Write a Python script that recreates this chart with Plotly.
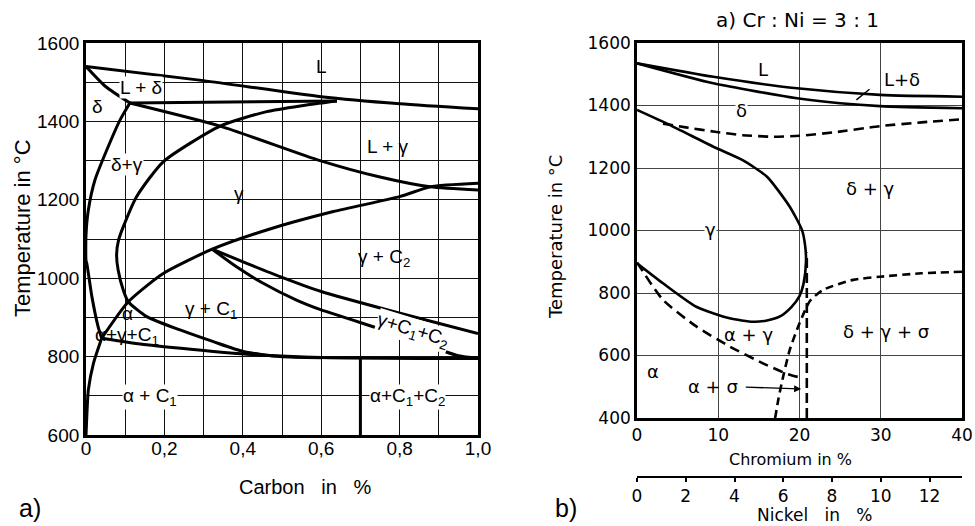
import plotly.graph_objects as go

# ---------------- Panel a): carbon % vs temperature °C ----------------
liquidus_c = [0, 0.3, 0.6, 0.8, 1.0]
liquidus_T = [1540, 1504, 1463, 1445, 1432]
delta_solidus_c = [0, 0.05, 0.112]
delta_solidus_T = [1540, 1489, 1447]
peritectic_c = [0.112, 0.64]
peritectic_T = [1447, 1452]
gamma_solidus_c = [0.112, 0.342, 0.597, 0.75, 0.878, 1.0]
gamma_solidus_T = [1447, 1388, 1300, 1258, 1233, 1225]
gamma_loop_c = [0.64, 0.55, 0.461, 0.342, 0.197, 0.129, 0.095, 0.083, 0.078,
                0.082, 0.095, 0.108, 0.155, 0.24, 0.325, 0.401, 0.495, 0.6]
gamma_loop_T = [1452, 1440, 1425, 1388, 1297, 1208, 1131, 1097, 1060,
                1021, 970, 940, 902, 868, 838, 813, 800, 797]
delta_gamma_c = [0.112, 0.087, 0.053, 0.023, 0.006, 0.0, 0.0, 0.002, 0.015, 0.031, 0.04]
delta_gamma_T = [1447, 1404, 1327, 1251, 1174, 1110, 1045, 1038, 953, 876, 847]
alpha_solvus_c = [0.04, 0.019, 0.006, 0.002, 0.0]
alpha_solvus_T = [847, 783, 715, 647, 600]
carbide_rise_c = [0.04, 0.108, 0.197, 0.322, 0.461, 0.631, 0.80, 0.878, 1.0]
carbide_rise_T = [847, 940, 1012, 1074, 1123, 1170, 1208, 1233, 1242]
c2_upper_c = [0.322, 0.41, 0.495, 0.6, 0.784, 1.0]
c2_upper_T = [1074, 1038, 1004, 966, 915, 859]
c2_lower_c = [0.322, 0.384, 0.452, 0.537, 0.6, 0.784, 0.95, 1.0]
c2_lower_T = [1074, 1029, 987, 944, 919, 860, 802, 796]
eutectoid_c = [0.04, 0.155, 0.325, 0.41, 0.6, 1.0]
eutectoid_T = [847, 830, 813, 806, 798, 795]
c1c2_split_c = [0.7, 0.7]
c1c2_split_T = [600, 796]

carbon_ticks = [0, 0.2, 0.4, 0.6, 0.8, 1.0]
carbon_ticktext = ["0", "0,2", "0,4", "0,6", "0,8", "1,0"]
temp_ticks_a = [600, 800, 1000, 1200, 1400, 1600]

# (text, carbon, temperature, white background, angle)
labels_a = [
    ("L", 0.60, 1540, False, 0),
    ("L + δ", 0.14, 1486, True, 0),
    ("δ", 0.03, 1437, False, 0),
    ("δ+γ", 0.104, 1290, True, 0),
    ("γ", 0.39, 1216, False, 0),
    ("L + γ", 0.77, 1335, False, 0),
    ("γ + C<sub>2</sub>", 0.76, 1051, False, 0),
    ("γ + C<sub>1</sub>", 0.32, 919, False, 0),
    ("α", 0.105, 911, False, 0),
    ("α+γ+C<sub>1</sub>", 0.105, 853, False, 0),
    ("α + C<sub>1</sub>", 0.163, 696, True, 0),
    ("α+C<sub>1</sub>+C<sub>2</sub>", 0.82, 696, True, 0),
    ("γ+C<sub>1</sub>+C<sub>2</sub>", 0.835, 866, True, 17),
]

# ---------------- Panel b): chromium % vs temperature °C ----------------
r_liquidus_cr = [0, 9.4, 19.7, 29.9, 40]
r_liquidus_T = [1535, 1492, 1455, 1434, 1428]
r_solidus_cr = [0, 9.4, 19.7, 25, 29.9, 40]
r_solidus_T = [1535, 1471, 1423, 1407, 1398, 1391]
r_gamma_loop_cr = [0, 4, 9.4, 13, 16, 18.8, 20.3, 20.7, 20.8, 20.5, 20.0, 19.0,
                   17.6, 16, 14.3, 11.4, 7.3, 3.2, 0]
r_gamma_loop_T = [1386, 1338, 1268, 1225, 1172, 1076, 1002, 950, 900, 830, 790, 755,
                  725, 712, 708, 719, 756, 831, 895]
r_delta_dash_cr = [3.2, 6, 9.6, 13, 16.8, 20, 24.2, 29.9, 35, 40]
r_delta_dash_T = [1342, 1330, 1316, 1305, 1300, 1303, 1314, 1334, 1346, 1356]
r_sigma_dash_cr = [0, 3.2, 7.3, 11.4, 15.5, 18.4, 20.3]
r_sigma_dash_T = [898, 778, 693, 629, 575, 542, 528]
r_steep_dash_cr = [17.0, 17.4, 17.8, 18.8, 20, 21.3, 22.9, 26.6, 29.9, 35, 40]
r_steep_dash_T = [400, 460, 511, 618, 703, 775, 810, 842, 852, 863, 868]
r_vertical_dash_cr = [20.9, 20.9]
r_vertical_dash_T = [400, 930]

chromium_ticks = [0, 10, 20, 30, 40]
temp_ticks_b = [400, 600, 800, 1000, 1200, 1400, 1600]
nickel_ticks = [0, 2, 4, 6, 8, 10, 12]
nickel_range = [0, 40 / 3]

labels_b = [
    ("L", 15.5, 1514, False),
    ("L+δ", 32.6, 1482, False),
    ("δ", 12.9, 1384, True),
    ("δ + γ", 28.7, 1135, False),
    ("γ", 9.0, 1002, True),
    ("α + γ", 13.7, 666, False),
    ("δ + γ + σ", 30.7, 676, False),
    ("α", 2.0, 548, False),
    ("α + σ", 9.4, 500, False),
]
# leader lines: (from Cr, from T, to Cr, to T, arrowhead)
leaders_b = [
    (28.8, 1456, 27.0, 1418, 0),
    (13.2, 499, 20.2, 493, 2),
]

fig = go.Figure()

def curve(x, y, xa="x", ya="y", dash="solid", width=3, shape="spline", smooth=0.6):
    fig.add_trace(go.Scatter(
        x=x, y=y, xaxis=xa, yaxis=ya, mode="lines",
        line=dict(color="black", width=width, dash=dash, shape=shape,
                  smoothing=smooth if shape == "spline" else None),
        showlegend=False, hoverinfo="skip"))

curve(liquidus_c, liquidus_T)
curve(delta_solidus_c, delta_solidus_T)
curve(peritectic_c, peritectic_T, shape="linear")
curve(gamma_solidus_c, gamma_solidus_T)
curve(gamma_loop_c, gamma_loop_T)
curve(delta_gamma_c, delta_gamma_T)
curve(alpha_solvus_c, alpha_solvus_T)
curve(carbide_rise_c, carbide_rise_T)
curve(c2_upper_c, c2_upper_T)
curve(c2_lower_c, c2_lower_T)
curve(eutectoid_c, eutectoid_T)
curve(c1c2_split_c, c1c2_split_T, shape="linear")

RW = 2.6
curve(r_liquidus_cr, r_liquidus_T, "x2", "y2", width=RW)
curve(r_solidus_cr, r_solidus_T, "x2", "y2", width=RW)
curve(r_gamma_loop_cr, r_gamma_loop_T, "x2", "y2", width=RW)
curve(r_delta_dash_cr, r_delta_dash_T, "x2", "y2", dash="10px,6px", width=RW)
curve(r_sigma_dash_cr, r_sigma_dash_T, "x2", "y2", dash="10px,6px", width=RW)
curve(r_steep_dash_cr, r_steep_dash_T, "x2", "y2", dash="8px,5px", width=RW)
curve(r_vertical_dash_cr, r_vertical_dash_T, "x2", "y2", dash="10px,5px", width=RW, shape="linear")

# invisible trace so that the nickel axis is drawn
fig.add_trace(go.Scatter(x=nickel_ticks, y=[None] * len(nickel_ticks), xaxis="x3", yaxis="y2",
                         mode="lines", showlegend=False, hoverinfo="skip"))

W, H = 975, 526
def px_x(p): return p / W
def px_y(p): return 1 - p / H

SANS_A = "Liberation Sans, Arial, sans-serif"
SANS_B = "DejaVu Sans, sans-serif"
FA = dict(family=SANS_A, size=19, color="black")
FB = dict(family=SANS_B, size=17, color="black")

fig.update_layout(
    width=W, height=H, margin=dict(l=0, r=0, t=0, b=0, autoexpand=False),
    paper_bgcolor="white", plot_bgcolor="white",
    xaxis=dict(domain=[px_x(86), px_x(478)], range=[0, 1.0], anchor="y", automargin=False,
               tickvals=carbon_ticks, ticktext=carbon_ticktext, tickfont=FA,
               ticklabelstandoff=-6,
               showgrid=True, gridcolor="#111", gridwidth=1.4,
               minor=dict(dtick=0.1, tick0=0, showgrid=True, gridcolor="#111", gridwidth=1.4),
               showline=True, mirror=True, linecolor="black", linewidth=2.8,
               zeroline=False, ticks=""),
    yaxis=dict(domain=[px_y(435), px_y(43)], range=[600, 1600], anchor="x", automargin=False,
               tickvals=temp_ticks_a, tickfont=FA,
               showgrid=True, gridcolor="#111", gridwidth=1.4,
               minor=dict(dtick=100, tick0=600, showgrid=True, gridcolor="#111", gridwidth=1.4),
               showline=True, mirror=True, linecolor="black", linewidth=2.8,
               zeroline=False, ticks=""),
    xaxis2=dict(domain=[px_x(637), px_x(962)], range=[0, 40], anchor="y2", automargin=False,
                tickvals=chromium_ticks, tickfont=FB,
                showgrid=True, gridcolor="#444", gridwidth=1.3,
                showline=True, mirror=True, linecolor="black", linewidth=2.6,
                zeroline=False, ticks=""),
    yaxis2=dict(domain=[px_y(418), px_y(43)], range=[400, 1600], anchor="x2", automargin=False,
                tickvals=temp_ticks_b, tickfont=FB,
                showgrid=True, gridcolor="#444", gridwidth=1.3,
                showline=True, mirror=True, linecolor="black", linewidth=2.6,
                zeroline=False, ticks=""),
    xaxis3=dict(overlaying="x2", anchor="free", position=px_y(477), side="bottom",
                automargin=False, range=nickel_range, tickvals=nickel_ticks, tickfont=FB,
                showgrid=False, showline=True, linecolor="black", linewidth=1.6,
                ticks="outside", ticklen=4, tickwidth=1.6, tickcolor="black", zeroline=False),
)

ann = []
for text, x, y, bg, ang in labels_a:
    ann.append(dict(text=text, x=x, y=y, xref="x", yref="y", showarrow=False,
                    xanchor="center", yanchor="middle",
                    font=FA, textangle=ang,
                    bgcolor="white" if bg else None, borderpad=0))
for text, x, y, bg in labels_b:
    ann.append(dict(text=text, x=x, y=y, xref="x2", yref="y2", showarrow=False,
                    xanchor="center", yanchor="middle",
                    font=dict(family=SANS_B, size=18, color="black"),
                    bgcolor="white" if bg else None, borderpad=0))
for x0, y0, x1, y1, head in leaders_b:
    ann.append(dict(text="", x=x1, y=y1, ax=x0, ay=y0, xref="x2", yref="y2",
                    axref="x2", ayref="y2", showarrow=True, arrowhead=head,
                    arrowsize=1, arrowwidth=1.4, arrowcolor="black", standoff=0))

def paper_text(text, x, y, family, size, angle=0):
    return dict(text=text, x=px_x(x), y=px_y(y), xref="paper", yref="paper",
                xanchor="center", yanchor="middle", showarrow=False, textangle=angle,
                font=dict(family=family, size=size, color="black"))

ann += [
    paper_text("Temperature in °C", 23, 228, SANS_A, 22, -90),
    paper_text("Carbon   in   %", 305, 487, SANS_A, 20),
    paper_text("a)", 30, 508, SANS_A, 25),
    paper_text("a) Cr : Ni = 3 : 1", 797, 20, SANS_B, 20),
    paper_text("Temperature in °C", 555, 237, SANS_B, 18, -90),
    paper_text("Chromium in %", 790, 459, SANS_B, 16),
    paper_text("Nickel   in   %", 814, 515, SANS_B, 17),
    paper_text("b)", 566, 508, SANS_A, 25),
]
fig.update_layout(annotations=ann)

fig.write_html("out.html")
